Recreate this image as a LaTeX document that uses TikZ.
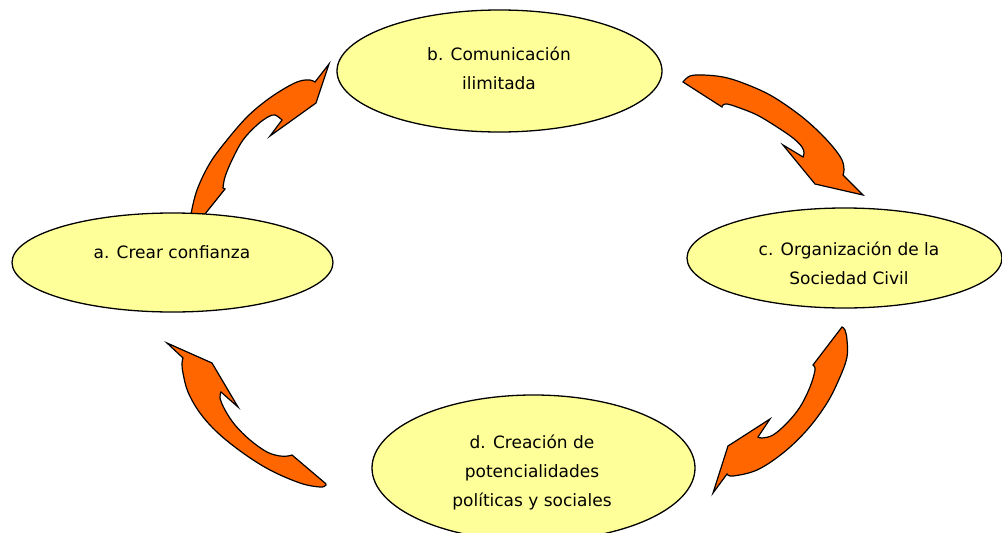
\documentclass[tikz,border=0pt]{standalone}
\usepackage{fontspec}
\setmainfont{DejaVu Sans}
\usetikzlibrary{shapes.geometric}
\definecolor{ellfill}{HTML}{FFFF99}
\definecolor{arrfill}{HTML}{FF6600}
\begin{document}
\begin{tikzpicture}[x=1pt,y=-1pt,
  ell/.style={ellipse,draw=black,line width=1.3pt,fill=ellfill,inner sep=0pt},
  lbl/.style={align=center,inner sep=0pt,font=\fontsize{17}{29}\selectfont},
  carrow/.style={fill=arrfill,draw=black,line width=1.2pt,line join=miter}]
\useasboundingbox (0,0) rectangle (1002,533);
\clip (0,0) rectangle (1002,533);
\fill[white] (0,0) rectangle (1002,533);
% arrows
\path[carrow] (191,214) -- plot[smooth,tension=0.6] coordinates {(191,214) (197,190) (210,163) (227,140) (247,117) (267,100) (287,87) (300,81) (310,80) (315,82)}
  -- (329,64) -- (316,103) -- (270,136) -- (282,120)
  -- plot[smooth,tension=0.6] coordinates {(282,120) (275,115) (268,117) (257,125) (243,140) (232,160) (225,177) (223,188)}
  -- (225,189) -- (205,214) -- cycle;
\path[carrow] (683,82) -- plot[smooth,tension=0.6] coordinates {(683,82) (690,76) (703,75) (723,77) (743,83) (770,95) (797,113) (817,130) (833,147) (842,160) (844,170) (843,175)}
  -- (863,195) -- (815,184) -- (783,145) -- (803,157)
  -- plot[smooth,tension=0.6] coordinates {(803,157) (804,153) (802,147) (793,138) (777,127) (757,115) (737,107) (727,104) (723,105) (722,107)}
  -- cycle;
\path[carrow] (842,327) -- plot[smooth,tension=0.6] coordinates {(842,327) (845,330) (847,340) (847,357) (840,377) (827,403) (807,430) (783,453) (757,470) (733,476) (727,474)}
  -- (713,493) -- (728,446) -- (770,419) -- (758,437)
  -- plot[smooth,tension=0.6] coordinates {(758,437) (762,438) (773,435) (787,423) (800,407) (810,387) (815,370) (813,365)}
  -- cycle;
\path[carrow] (167,343) -- (183,358) -- plot[smooth,tension=0.6] coordinates {(183,358) (182,363) (183,373) (188,392) (200,413) (218,433) (243,453) (270,470) (300,483) (320,487) (326,485) (325,483)}
  -- (292,455) -- plot[smooth,tension=0.6] coordinates {(292,455) (288,456) (280,456) (267,452) (250,440) (235,425) (225,410) (220,398) (221,392)}
  -- (238,407) -- (212,363) -- cycle;
% ellipses
\node[ell,minimum width=325pt,minimum height=122pt] (b) at (499.5,71) {};
\node[ell,minimum width=321pt,minimum height=99pt] (a) at (172.5,262.5) {};
\node[ell,minimum width=315pt,minimum height=100pt] (c) at (844.5,258) {};
\node[ell,minimum width=323pt,minimum height=146pt] (d) at (533.5,468) {};
% labels
\node[lbl] (tb) at (499,68) {b. Comunicación\\ilimitada};
\node[lbl] (ta) at (172,252) {a. Crear confianza};
\node[lbl] (tc) at (849,263) {c. Organización de la\\Sociedad Civil};
\node[lbl] (td) at (532,472) {d. Creación de\\potencialidades\\políticas y sociales};
\end{tikzpicture}
\end{document}
